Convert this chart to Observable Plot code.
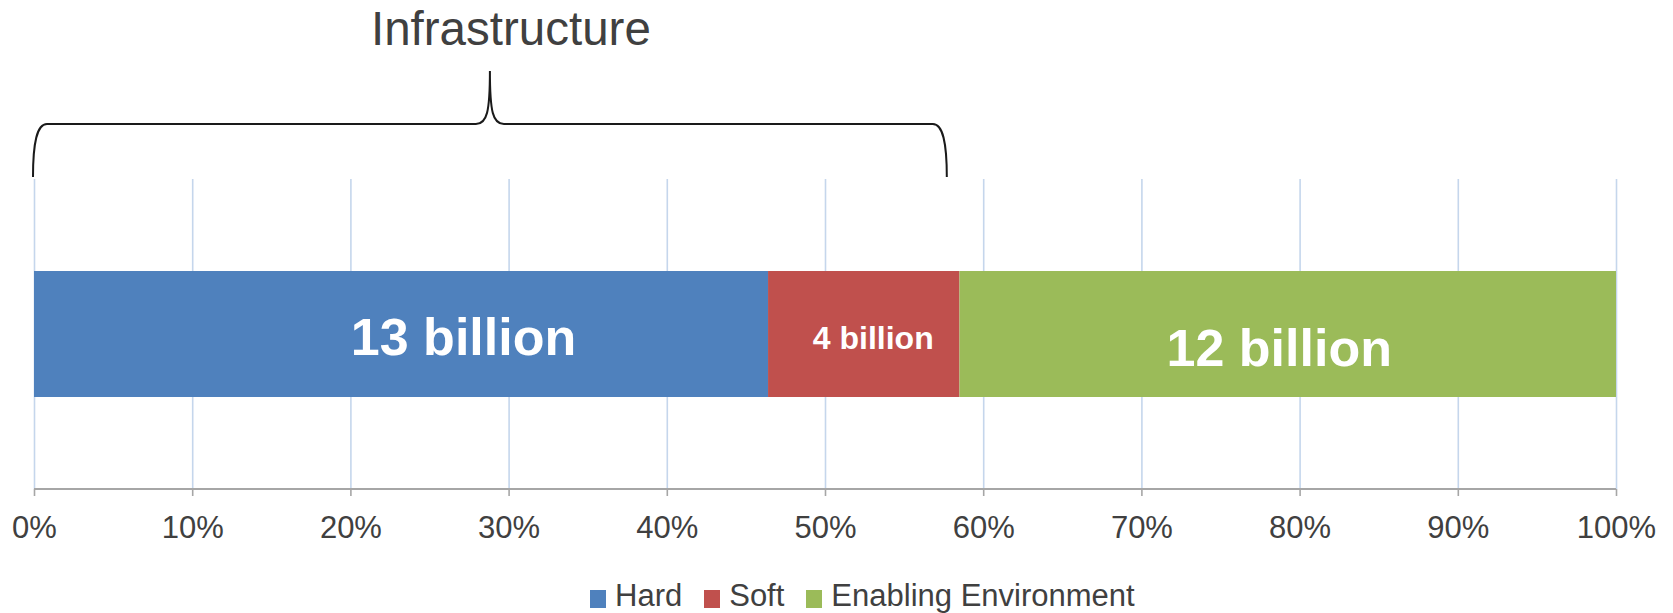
<!DOCTYPE html>
<html>
<head>
<meta charset="utf-8">
<script src="https://cdn.jsdelivr.net/npm/d3@7"></script>
<script src="https://cdn.jsdelivr.net/npm/@observablehq/plot@0.6"></script>
<style>
  html, body { margin: 0; padding: 0; background: #fff; }
  body { width: 1673px; font-family: "Liberation Sans", Arial, sans-serif; }
  #legend { display: flex; justify-content: flex-start; align-items: center; padding-left: 590px;
            margin-top: 16px; height: 40px; font-size: 31px; line-height: 40px; color: #404040; }
  #legend .item { display: flex; align-items: center; margin-right: 22px; }
  #legend .sw { width: 16px; height: 18px; margin-right: 9px; margin-top: 6px; }
</style>
</head>
<body>
<div id="chart"></div>
<div id="legend"></div>
<script>
// ---- data ----
const categories = ["Hard", "Soft", "Enabling Environment"];
const shares = [46.4, 12.1, 41.5];            // % of total
const valueLabels = ["13 billion", "4 billion", "12 billion"];
const seriesColors = ["#4f81bd", "#c0504d", "#9bbb59"];
const tickValues = [0, 10, 20, 30, 40, 50, 60, 70, 80, 90, 100];
const braceLabel = "Infrastructure";
const braceSpan = [0, 57.7];                  // % range covered by the brace

// ---- derived table ----
const ends = d3.cumsum(shares);
const rows = categories.map((c, i) => ({
  row: "total",
  category: c,
  x1: ends[i] - shares[i],
  x2: ends[i],
  mid: ends[i] - shares[i] / 2,
  label: valueLabels[i]
}));

const font = "'Liberation Sans', Arial, sans-serif";

function braceMark(index, scales, values, dimensions) {
  const x = scales.x;
  const top = dimensions.marginTop;
  const bottom = dimensions.height - dimensions.marginBottom;
  const g = d3.create("svg:g");
  // axis line
  g.append("line")
    .attr("x1", x(0)).attr("x2", x(100))
    .attr("y1", bottom).attr("y2", bottom)
    .attr("stroke", "#a6a6a6").attr("stroke-width", 2);
  // brace
  const L = x(braceSpan[0]) - 1, R = x(braceSpan[1]);
  const M = (L + R) / 2;
  const yb = top - 2, yh = top - 55, yp = top - 108;
  const p = d3.path();
  p.moveTo(L, yb);
  p.bezierCurveTo(L, yb - 35, L + 4, yh, L + 14, yh);
  p.lineTo(M - 14, yh);
  p.bezierCurveTo(M - 3, yh, M, yh - 12, M, yp);
  p.bezierCurveTo(M, yh - 12, M + 3, yh, M + 14, yh);
  p.lineTo(R - 14, yh);
  p.bezierCurveTo(R - 4, yh, R, yb - 35, R, yb);
  g.append("path").attr("d", p.toString())
    .attr("fill", "none").attr("stroke", "#1a1a1a").attr("stroke-width", 2);
  // brace label
  g.append("text")
    .attr("x", M + 21).attr("y", 45)
    .attr("text-anchor", "middle")
    .attr("font-size", 47.5)
    .attr("font-family", font)
    .attr("fill", "#404040")
    .text(braceLabel);
  return g.node();
}

const labelMark = (i, size, dx, dy) => Plot.text(rows.filter((d, j) => j === i), {
  x: "mid", y: "row", text: "label",
  fill: "white", fontWeight: "bold", fontSize: size, fontFamily: font,
  dx, dy, lineAnchor: "middle"
});

const chart = Plot.plot({
  width: 1673,
  height: 560,
  marginTop: 179,
  marginBottom: 71,
  marginLeft: 34,
  marginRight: 57,
  style: { fontFamily: font, background: "white", color: "#404040", overflow: "visible" },
  x: { domain: [0, 100], label: null },
  y: { domain: ["total"], axis: null, paddingInner: 0.42, paddingOuter: 0.42 },
  color: { domain: categories, range: seriesColors },
  marks: [
    Plot.gridX(tickValues, { stroke: "#c5d6ec", strokeOpacity: 1, strokeWidth: 1.6 }),
    Plot.barX(rows, { x1: "x1", x2: "x2", y: "row", fill: "category" }),
    labelMark(0, 52, 62, 4),
    labelMark(1, 32, 9, 4),
    labelMark(2, 52, -9, 15),
    braceMark,
    Plot.axisX({
      ticks: tickValues,
      tickFormat: d => d + "%",
      tickSize: 7,
      tickPadding: 19,
      fontSize: 31,
      stroke: "#a6a6a6",
      strokeWidth: 1.6,
      fill: "#404040",
      label: null
    })
  ]
});
document.getElementById("chart").appendChild(chart);

// legend
const legend = d3.select("#legend");
categories.forEach((c, i) => {
  const item = legend.append("div").attr("class", "item");
  item.append("div").attr("class", "sw").style("background", seriesColors[i]);
  item.append("span").text(c);
});
</script>
</body>
</html>
